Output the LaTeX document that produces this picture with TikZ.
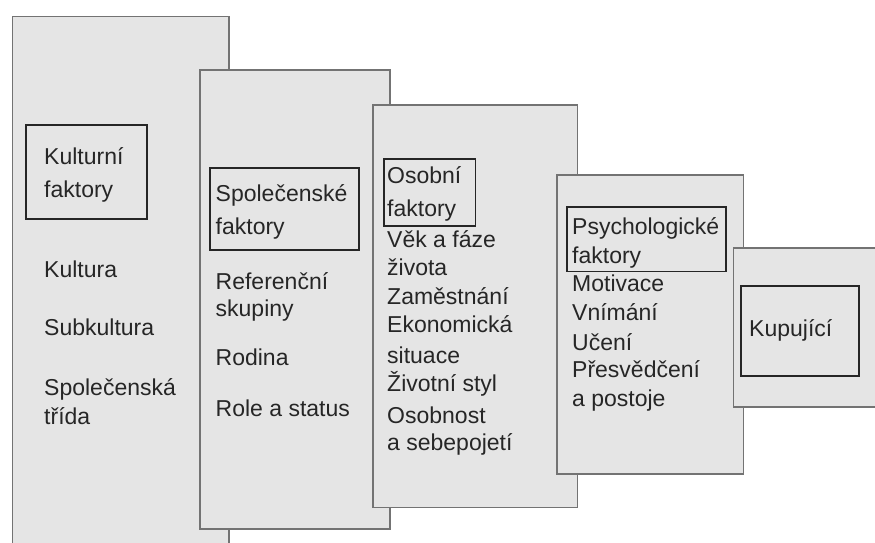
\documentclass[tikz,border=0pt]{standalone}
\usepackage{fontspec}
\setmainfont{Liberation Sans}

\begin{document}
\begin{tikzpicture}[x=1pt,y=-1pt]
\tikzset{deska/.style={draw=black!55, fill=black!10, line width=1.5pt, rectangle, anchor=north west, inner sep=0pt}}
\tikzset{ramecek/.style={draw=black!85, line width=1.6pt, rectangle, anchor=north west, inner sep=0pt}}
\tikzset{popis/.style={anchor=base west, align=left, inner sep=0pt, text=black!85, font=\fontsize{23}{29}\selectfont}}
\useasboundingbox (0,0) rectangle (875,542);
\clip (0,0) rectangle (875,542);
\node[deska, minimum width=216.5pt, minimum height=590pt] (D1) at (11.5,15.5) {};
\node[ramecek, minimum width=121pt, minimum height=94pt] (R1) at (25,124) {};
\node[popis] (H1) at (44,197) {Kulturní\\[4pt]faktory};
\node[popis] (K1) at (44,277) {Kultura};
\node[popis] (K2) at (44,335) {Subkultura};
\node[popis] (K3) at (44,424) {Společenská\\třída};
\node[deska, minimum width=190pt, minimum height=459pt] (D2) at (199,69) {};
\node[ramecek, minimum width=149pt, minimum height=82pt] (R2) at (209,167) {};
\node[popis] (H2) at (215.5,234) {Společenské\\[4pt]faktory};
\node[popis] (S1) at (215.5,316.7) {Referenční\\[-2pt]skupiny};
\node[popis] (S2) at (215.5,365.7) {Rodina};
\node[popis] (S3) at (215.5,416.7) {Role a status};
\node[deska, minimum width=204.7pt, minimum height=402.4pt] (D3) at (372,104.3) {};
\node[ramecek, minimum width=91.7pt, minimum height=66.7pt] (R3) at (383,158.3) {};
\node[popis] (H3) at (387,216.7) {Osobní\\[4pt]faktory};
\node[popis] (O1) at (387,275) {Věk a fáze\\[-1pt]života};
\node[popis] (O2) at (387,304) {Zaměstnání};
\node[popis] (O3) at (387,363.3) {Ekonomická\\[2pt]situace};
\node[popis] (O4) at (387,391.7) {Životní styl};
\node[popis] (O5) at (387,450) {Osobnost\\[-2pt]a sebepojetí};
\node[deska, minimum width=186.7pt, minimum height=299pt] (D4) at (556,174) {};
\node[ramecek, minimum width=159pt, minimum height=64.7pt] (R4) at (566,206) {};
\node[popis] (H4) at (572,263.3) {Psychologické\\faktory};
\node[popis] (P1) at (572,291.7) {Motivace};
\node[popis] (P2) at (572,320.7) {Vnímání};
\node[popis] (P3) at (572,350) {Učení};
\node[popis] (P4) at (572,406.7) {Přesvědčení\\a postoje};
\node[deska, minimum width=170pt, minimum height=159pt] (D5) at (732.7,247) {};
\node[ramecek, minimum width=118.3pt, minimum height=90pt] (R5) at (740,285) {};
\node[popis] (H5) at (749,336.7) {Kupující};
\end{tikzpicture}
\end{document}
